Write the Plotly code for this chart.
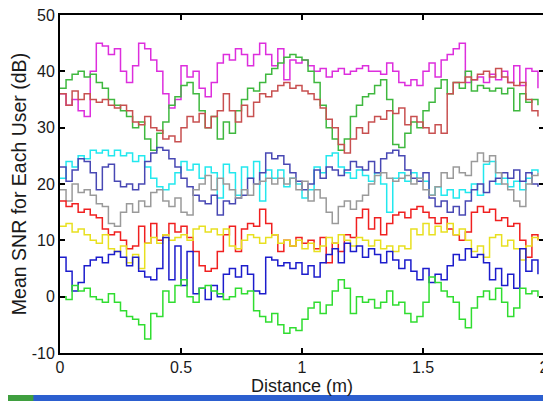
import plotly.graph_objects as go

# Sampling grid along the route (m)
distance = [round(i * 0.025, 3) for i in range(80)]

user_magenta = [36, 34, 35, 33, 32, 40, 45, 44.5, 43, 44, 40, 38, 41, 45, 44, 42, 40, 36, 33.5, 35,
                41, 39, 40, 37, 35.5, 38, 41.5, 43, 42, 44, 43, 41, 43, 45, 43, 41, 44, 38.5, 42, 41.5,
                42, 41, 40, 40.5, 39, 40, 40.5, 39.5, 40, 40.5, 41, 40, 40, 39.5, 41.5, 40, 38, 37.5, 38.5, 37.5,
                40, 41.5, 39, 42, 43, 44, 45, 38, 38.5, 39, 38, 39.5, 38.5, 40, 38, 41, 37.5, 40.5, 40, 37]

user_green_hi = [37, 38.5, 39.5, 40, 39, 39.5, 38, 37, 35, 34, 33, 32, 30, 31, 28, 26, 29, 31, 34, 35.5,
                 37.5, 38, 36, 33, 30, 32, 28, 31, 29, 33, 35, 37, 36.5, 38, 39.5, 40.5, 41.5, 42.5, 43, 42.5,
                 42, 40, 38, 34, 30, 28, 26, 28, 32, 34, 35.5, 36, 37.5, 38.5, 35, 27, 26.5, 29, 31, 30,
                 33, 34.5, 37, 38.5, 36, 38, 37, 40, 36.5, 37.5, 37, 36.5, 37, 36, 37, 33, 36, 34.5, 35, 34]

user_brown = [36, 34, 36.5, 35, 36, 35, 34.5, 35, 34, 33.5, 34, 33, 31, 30.5, 32, 30, 29.5, 28, 28.5, 27.5,
              30, 32, 31, 32.5, 30, 32, 33, 36, 33, 31, 34, 32, 34.5, 36, 35.5, 36.5, 37.5, 38, 37, 37.5,
              36.5, 36, 35, 33.5, 31.5, 30, 27, 25.5, 28, 30, 29, 31, 32, 31.5, 33, 32.5, 33.5, 30.5, 32, 31,
              30, 29, 30.5, 29, 36, 38, 38, 39, 38.5, 39.5, 40, 39, 40.5, 39, 38, 37.5, 38, 35, 33, 32]

user_cyan = [21, 24, 23, 25, 24.5, 26, 25.5, 26, 25, 26, 25, 25.5, 24, 25, 23, 21, 19.5, 19, 20, 22,
             24, 22.5, 23.5, 21, 23, 22, 17.5, 23.5, 22, 18, 23, 21, 24, 17, 22.5, 21, 22.5, 19.5, 21, 20,
             17.5, 19, 23, 22, 25, 25.5, 23, 22, 21, 22.5, 21.5, 20.5, 22, 20, 15, 21, 22, 20.5, 22, 21,
             20.5, 18, 19.5, 18, 19, 17.5, 19, 18.5, 20, 18, 23.5, 24, 20, 21, 19.5, 20.5, 19, 21, 22.5, 22]

user_slate = [23, 20.5, 22.5, 24.5, 24, 22, 19, 23, 23.5, 20.5, 19.5, 20, 19, 20, 24, 25.5, 26.5, 26, 24.5, 23,
              21, 19.5, 18, 17, 16.5, 18, 14.5, 17, 16.5, 17.5, 18, 21, 20, 22, 25.5, 24.5, 25, 23.5, 22, 20.5,
              19, 20, 22.5, 21, 23, 22.5, 21.5, 22.5, 24, 23, 22.5, 24, 22, 24.5, 25.5, 26, 25, 22.5, 21, 20.5,
              22, 17.5, 16, 17, 15, 16, 14.5, 17, 19, 20, 18.5, 20.5, 21, 22, 21, 22.5, 20.5, 22, 20, 19.5]

user_gray = [19, 17, 20, 18.5, 19, 18, 16.5, 16, 13, 12.5, 15, 16.5, 15, 17, 16, 18.5, 19, 17, 16, 17.5,
             15, 14.5, 19, 20, 21.5, 19, 21, 20, 19, 17.5, 19, 18, 20, 20.5, 21, 20, 21, 20, 21, 19,
             20.5, 17, 19, 17.5, 15, 13, 16, 17, 15.5, 17, 18, 20, 21.5, 22, 21, 20.5, 21, 21.5, 20, 21,
             19, 18, 19.5, 22, 21, 23, 22, 21.5, 24, 25.5, 24, 25, 22, 20, 19, 17, 16, 20, 21.5, 22]

user_red = [17, 16, 16.5, 15, 15.5, 14.5, 14, 12, 11, 11.5, 10, 8.5, 9, 12.5, 9.5, 13, 10, 11, 13, 11.5,
            12.5, 10.5, 8, 5.5, 4.5, 5, 8, 11, 12.5, 8, 12, 13, 12.5, 15.5, 13, 11, 8, 10, 9, 10.5,
            9.5, 10, 8.5, 10.5, 6, 9.5, 8, 11, 10.5, 14, 15.5, 12, 14, 11, 13, 14.5, 15, 14, 15.5, 16,
            15, 14, 13, 14, 12, 11, 10, 11.5, 15, 16, 15, 15.5, 13.5, 14, 12.5, 13, 10, 7, 11, 10]

user_yellow = [12.5, 13, 11.5, 12, 11, 10, 9.5, 11, 8.5, 8, 9, 6, 7.5, 5, 9.5, 10.5, 9.5, 11, 10, 10.5,
               11, 10, 12, 12.5, 11.5, 12, 11, 12, 9, 8.5, 10, 11, 10.5, 9.5, 10.5, 11, 9.5, 10, 9, 10,
               8.5, 9.5, 8, 9, 10.5, 9.5, 11, 10, 9, 10.5, 10, 9, 10, 8.5, 9, 8, 9, 8.5, 12, 11,
               13, 11, 12.5, 11.5, 13, 11, 12, 10, 8, 9, 7, 10.5, 11, 9, 10, 8.5, 6.5, 9, 10.5, 10]

user_blue = [7, 4.5, 1, 2.5, 5.5, 6.5, 7, 6, 7.5, 8, 7, 5.5, 7, 4.5, 3.5, 3, 5, 10.5, 3, 9,
             2, 8, 0.5, 1.5, -0.5, 2, 0, 4, 5, 3.5, 5.5, 4, 1, 0.5, 7, 6.5, 5.5, 6, 5, 6,
             4, 5.5, 3.5, 6, 7.5, 8.5, 6, 9.5, 8, 9, 7, 8.5, 7.5, 6, 8, 6.5, 5, 6.5, 4.5, 3,
             5, 2.5, 4, 3, 5.5, 7.5, 6.5, 8.5, 7, 7.5, 6, 3, 5, 2, 4, 1.5, 8.5, 4.5, 6.5, 4]

user_green_lo = [0, -0.5, 2, 1, 1.5, 0, -0.5, -1, 0.5, -1, -2.5, -3.5, -4, -5, -7.5, -3, -3.5, 1, -1, 2,
                 3, 0, -1, 1.5, 2, 1, 0.5, -0.5, 0, 1.5, 0.5, 1, -2.5, -3.5, -4.5, -3, -5, -6.5, -5.5, -6,
                 -4, -2, -1, -3, -1.5, 1, 3, 1.5, -3, 0, -1, -0.5, -2, -1, 1, -1.5, -1, -3, -4.5, -3.5,
                 -1, 3.5, 2.5, 1, 0, -1, -4, -5.5, -2, 0, 1, -0.5, 1.5, -1, -3.5, -2, 1.5, 0.5, 1, 0]

series = [
    (user_magenta, "#dd2edd"),
    (user_green_hi, "#3fb83f"),
    (user_brown, "#c85050"),
    (user_cyan, "#22e8ee"),
    (user_slate, "#4848b4"),
    (user_gray, "#9a9a9a"),
    (user_red, "#f02020"),
    (user_yellow, "#e8e020"),
    (user_blue, "#1c1ccc"),
    (user_green_lo, "#30dd30"),
]

x_ticks = [0, 0.5, 1, 1.5, 2]
x_tick_labels = ["0", "0.5", "1", "1.5", "2"]
y_ticks = [-10, 0, 10, 20, 30, 40, 50]
y_tick_labels = ["-10", "0", "10", "20", "30", "40", "50"]

fig = go.Figure()
for vals, col in series:
    fig.add_trace(go.Scatter(x=distance, y=vals, mode="lines",
                             line=dict(color=col, width=1.5, shape="hv"),
                             showlegend=False, hoverinfo="skip"))

tick_font = dict(family="Liberation Sans, Arial, sans-serif", size=16, color="#1a1a1a")
xtitle_font = dict(family="Liberation Sans, Arial, sans-serif", size=18, color="#1a1a1a")
ytitle_font = dict(family="Liberation Sans, Arial, sans-serif", size=19.5, color="#1a1a1a")

# The page body adds an 8px offset, so the figure is sized to the remaining window
fig.update_layout(
    width=543, height=393,
    margin=dict(l=52, r=7, t=7, b=48, autoexpand=False),
    paper_bgcolor="white", plot_bgcolor="white",
    font=tick_font,
    xaxis=dict(range=[0, 2], tickvals=x_ticks, ticktext=x_tick_labels, tickfont=tick_font,
               showgrid=False, zeroline=False, showline=True, linecolor="black", linewidth=2,
               mirror="allticks", ticks="inside", ticklen=5, tickcolor="black", tickwidth=1.5,
               automargin=False, ticklabelstandoff=-1, ticklabeloverflow="allow",
               title=dict(text="Distance (m)", standoff=1, font=xtitle_font)),
    yaxis=dict(range=[-10, 50], tickvals=y_ticks, ticktext=y_tick_labels, tickfont=tick_font,
               showgrid=False, zeroline=False, showline=True, linecolor="black", linewidth=2,
               mirror="allticks", ticks="inside", ticklen=5, tickcolor="black", tickwidth=1.5,
               automargin=False, ticklabelstandoff=0, ticklabeloverflow="allow",
               title=dict(text="Mean SNR for Each User (dB)", standoff=1, font=ytitle_font)),
    shapes=[
        dict(type="rect", xref="paper", yref="paper", x0=-0.12, x1=1.02, y0=-0.15, y1=-0.124,
             fillcolor="#2c5fcf", line=dict(width=0), layer="above"),
        dict(type="rect", xref="paper", yref="paper", x0=-0.12, x1=-0.055, y0=-0.15, y1=-0.124,
             fillcolor="#3f9f3f", line=dict(width=0), layer="above"),
    ],
)

fig.write_html("out.html")
